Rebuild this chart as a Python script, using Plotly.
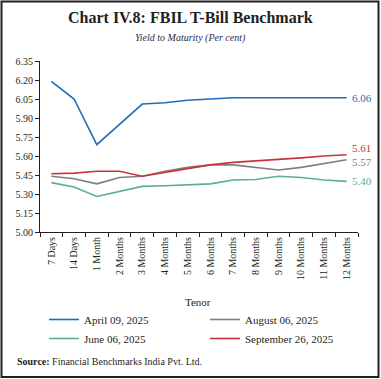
import plotly.graph_objects as go

tenors = ["7 Days", "14 Days", "1 Month", "2 Months", "3 Months", "4 Months", "5 Months",
          "6 Months", "7 Months", "8 Months", "9 Months", "10 Months", "11 Months", "12 Months"]
apr_09 = [6.19, 6.05, 5.69, 5.85, 6.01, 6.02, 6.04, 6.05, 6.06, 6.06, 6.06, 6.06, 6.06, 6.06]
aug_06 = [5.44, 5.42, 5.38, 5.43, 5.44, 5.48, 5.51, 5.53, 5.53, 5.51, 5.49, 5.51, 5.54, 5.57]
jun_06 = [5.39, 5.355, 5.28, 5.32, 5.36, 5.365, 5.375, 5.38, 5.41, 5.415, 5.44, 5.43, 5.41, 5.40]
sep_26 = [5.46, 5.465, 5.48, 5.48, 5.44, 5.47, 5.50, 5.53, 5.55, 5.56, 5.575, 5.585, 5.60, 5.61]
y_ticks = [5.00, 5.15, 5.30, 5.45, 5.60, 5.75, 5.90, 6.05, 6.20, 6.35]

series = [
    ("April 09, 2025", apr_09, "#1f6db8", "legend"),
    ("June 06, 2025", jun_06, "#5cae8c", "legend"),
    ("August 06, 2025", aug_06, "#7f7f7f", "legend2"),
    ("September 26, 2025", sep_26, "#c9343c", "legend2"),
]
end_labels = [("6.06", 6.06, "#1f6db8"), ("5.61", 5.665, "#c9343c"),
              ("5.57", 5.55, "#7f7f7f"), ("5.40", 5.405, "#5cae8c")]

FONT = "Liberation Serif"
W, H = 381, 379
L, R, T, B = 40, 23, 61, 147
pw, ph = W - L - R, H - T - B

def px(x):
    return (x - L) / pw

def py(y):
    return (H - B - y) / ph

fig = go.Figure()
for name, vals, col, lg in series:
    fig.add_trace(go.Scatter(x=tenors, y=vals, name=name, mode="lines", legend=lg,
                             line=dict(color=col, width=1.6)))

for txt, yv, col in end_labels:
    fig.add_annotation(x=tenors[-1], y=yv, text=txt, showarrow=False, xanchor="left",
                       xshift=3, font=dict(family=FONT, size=11, color=col))

fig.add_annotation(xref="paper", yref="paper", x=px(190), y=py(17), text="<b>Chart IV.8: FBIL T-Bill Benchmark</b>",
                   showarrow=False, xanchor="center", yanchor="middle",
                   font=dict(family=FONT, size=16, color="#231f20"))
fig.add_annotation(xref="paper", yref="paper", x=px(190), y=py(38), text="<i>Yield to Maturity (Per cent)</i>",
                   showarrow=False, xanchor="center", yanchor="middle",
                   font=dict(family=FONT, size=10, color="#2a2a4a"))
fig.add_annotation(xref="paper", yref="paper", x=px(198), y=py(302), text="Tenor",
                   showarrow=False, xanchor="center", yanchor="middle",
                   font=dict(family=FONT, size=11, color="#231f20"))
fig.add_annotation(xref="paper", yref="paper", x=px(15), y=py(361),
                   text="<b>Source:</b> Financial Benchmarks India Pvt. Ltd.",
                   showarrow=False, xanchor="left", yanchor="middle",
                   font=dict(family=FONT, size=10, color="#231f20"))

fig.add_shape(type="rect", xref="paper", yref="paper", x0=px(1.5), x1=px(378.5), y0=py(377), y1=py(1.5),
              line=dict(color="#231f20", width=2))

leg_common = dict(orientation="v", xanchor="left", yanchor="top", tracegroupgap=0,
                  font=dict(family=FONT, size=11, color="#231f20"), itemwidth=30,
                  bgcolor="rgba(0,0,0,0)")
fig.update_layout(
    width=W, height=H, margin=dict(l=L, r=R, t=T, b=B, autoexpand=False),
    paper_bgcolor="white", plot_bgcolor="white",
    font=dict(family=FONT, size=10, color="#231f20"),
    showlegend=True,
    legend=dict(x=px(44), y=py(305), **leg_common),
    legend2=dict(x=px(205), y=py(305), **leg_common),
)
fig.update_xaxes(showline=True, linecolor="#231f20", linewidth=1, ticks="outside", ticklen=4,
                 tickcolor="#231f20", tickson="boundaries", tickangle=-90, showgrid=False,
                 tickfont=dict(family=FONT, size=10), range=[-0.5, 13.5])
fig.update_yaxes(showline=True, linecolor="#231f20", linewidth=1, ticks="outside", ticklen=4,
                 tickcolor="#231f20", showgrid=False, zeroline=False, range=[5.0, 6.35],
                 tickvals=y_ticks, ticktext=[f"{v:.2f}" for v in y_ticks],
                 tickfont=dict(family=FONT, size=10))

fig.write_html("out.html", config={"displayModeBar": False},
               post_script="document.body.style.margin='0';document.body.style.overflow='hidden';")
